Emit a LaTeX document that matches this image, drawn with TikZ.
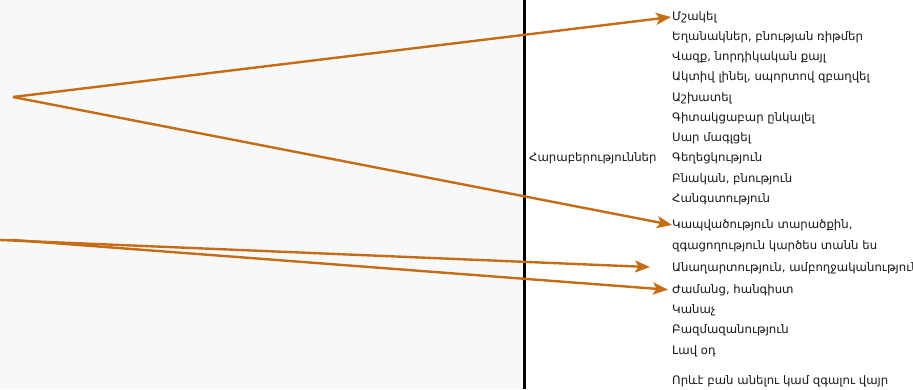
\documentclass[tikz,border=0pt]{standalone}
\usepackage{fontspec}
\setmainfont{DejaVu Sans}
\usetikzlibrary{arrows.meta}
\definecolor{arrowc}{RGB}{198,108,20}
\definecolor{panel}{RGB}{246,248,250}
\tikzset{
  lbl/.style={anchor=west, inner sep=0pt, font=\fontsize{11.7}{13}\selectfont, text=black!90},
  arr/.style={draw=arrowc, line width=2.4pt, -{Stealth[length=15pt,width=12pt,inset=3.5pt]}},
  plain/.style={draw=arrowc, line width=2.4pt}
}
\begin{document}
\begin{tikzpicture}[x=1pt,y=-1pt]
\useasboundingbox (0,0) rectangle (913,389);
\clip (0,0) rectangle (913,389);
\fill[white] (0,0) rectangle (913,389);
\fill[panel] (0,0) rectangle (524,389);
\draw[black, line width=3pt] (524,0) -- (524,389);

\node[lbl] (rel) at (529,158) {Հարաբերություններ};

\node[lbl] (t1)  at (672,17)  {Մշակել};
\node[lbl] (t2)  at (672,37)  {Եղանակներ, բնության ռիթմեր};
\node[lbl] (t3)  at (672,57)  {Վազք, նորդիկական քայլ};
\node[lbl] (t4)  at (672,77)  {Ակտիվ լինել, սպորտով զբաղվել};
\node[lbl] (t5)  at (672,98)  {Աշխատել};
\node[lbl] (t6)  at (672,118) {Գիտակցաբար ընկալել};
\node[lbl] (t7)  at (672,138) {Սար մագլցել};
\node[lbl] (t8)  at (672,158) {Գեղեցկություն};
\node[lbl] (t9)  at (672,179) {Բնական, բնություն};
\node[lbl] (t10) at (672,199) {Հանգստություն};
\node[lbl] (t11) at (672,225) {Կապվածություն տարածքին,};
\node[lbl] (t12) at (672,246) {զգացողություն կարծես տանն ես};
\node[lbl] (t13) at (672,268) {Անաղարտություն, ամբողջականություն};
\node[lbl] (t14) at (672,290) {Ժամանց, հանգիստ};
\node[lbl] (t15) at (672,310) {Կանաչ};
\node[lbl] (t16) at (672,330) {Բազմազանություն};
\node[lbl] (t17) at (672,351) {Լավ օդ};
\node[lbl] (t18) at (672,381) {Որևէ բան անելու կամ զգալու վայր};

\coordinate (s1) at (13,97);
\coordinate (s2) at (13,240);
\coordinate (s0) at (0,240);

\draw[arr] (s1) -- ([xshift=-1pt]t1.west);
\draw[arr] (s1) -- (t11.west);
\draw[plain] (s0) -- (s2);
\draw[arr, shorten >=22pt] (s0) -- (t13.west);
\draw[arr, shorten >=4pt] (s2) -- (t14.west);
\end{tikzpicture}
\end{document}
